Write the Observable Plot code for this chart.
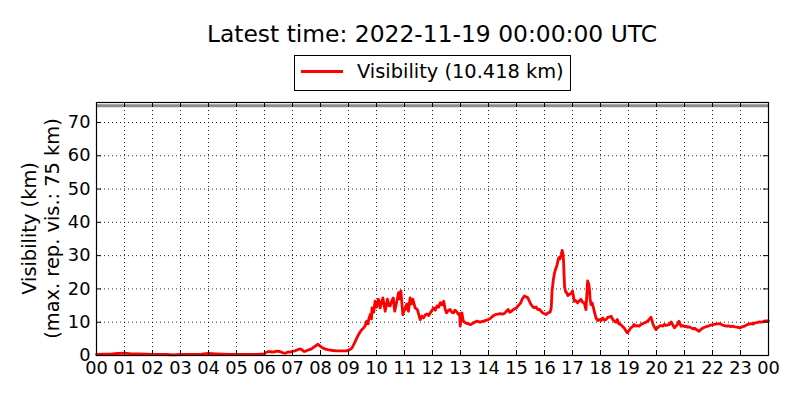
<!DOCTYPE html>
<html>
<head>
<meta charset="utf-8">
<script src="https://cdn.jsdelivr.net/npm/d3@7"></script>
<script src="https://cdn.jsdelivr.net/npm/@observablehq/plot@0.6"></script>
<style>
  html, body { margin: 0; padding: 0; background: white; }
  #chart { width: 800px; height: 400px; }
</style>
</head>
<body>
<div id="chart"></div>
<script>
// ---- data (hours since 00 UTC, visibility in km) ----
const hours = [
  0, 0.25, 0.5, 0.75, 1.0, 1.25, 1.5, 1.75, 2.0, 2.25, 2.5, 2.75, 3.0, 3.25, 3.5, 3.75, 4.0, 4.25, 4.5, 4.75, 5.0, 5.25, 5.5, 5.75, 6.0,
  6.05, 6.15, 6.3, 6.45, 6.55, 6.65, 6.75, 6.85, 6.92, 7.0, 7.1, 7.2, 7.28, 7.35, 7.42, 7.5, 7.58, 7.68, 7.76, 7.85, 7.9, 7.98, 8.05, 8.15, 8.29, 8.45, 8.58, 8.75, 8.94,
  9.05, 9.12, 9.2, 9.3, 9.36, 9.45, 9.54, 9.6, 9.65, 9.7, 9.72, 9.78, 9.82, 9.84, 9.9, 9.95, 10.0, 10.07, 10.13, 10.18, 10.23, 10.31, 10.36, 10.39, 10.45, 10.49, 10.55, 10.6, 10.65, 10.72, 10.79, 10.83, 10.87, 10.94,
  11.0, 11.02, 11.08, 11.14, 11.2, 11.25, 11.3, 11.38, 11.46, 11.56, 11.62, 11.68, 11.74, 11.8, 11.86, 11.92, 11.98,
  12.04, 12.1, 12.16, 12.22, 12.28, 12.34, 12.4, 12.45, 12.5, 12.56, 12.63, 12.69, 12.75, 12.8, 12.85, 12.93, 12.97, 12.99,
  13.02, 13.05, 13.1, 13.18, 13.28, 13.37, 13.46, 13.58, 13.7, 13.82, 13.94,
  14.06, 14.15, 14.24, 14.33, 14.41, 14.5, 14.59, 14.65, 14.7, 14.76, 14.82, 14.9,
  15.0, 15.05, 15.1, 15.15, 15.2, 15.28, 15.34, 15.4, 15.46, 15.52, 15.58, 15.64, 15.7, 15.76, 15.82, 15.88, 15.94,
  16.0, 16.06, 16.12, 16.2, 16.24, 16.27, 16.32, 16.36, 16.4, 16.44, 16.48, 16.51, 16.55, 16.6, 16.63, 16.66, 16.68, 16.7, 16.72, 16.76, 16.79, 16.84, 16.89, 16.95,
  17.0, 17.03, 17.06, 17.12, 17.18, 17.24, 17.3, 17.36, 17.42, 17.48, 17.51, 17.54, 17.58, 17.6, 17.63, 17.66, 17.7, 17.75, 17.8, 17.84, 17.9, 17.96,
  18.02, 18.08, 18.14, 18.2, 18.26, 18.32, 18.38, 18.44, 18.5, 18.56, 18.6, 18.66, 18.72, 18.78, 18.84, 18.9, 18.96,
  19.02, 19.08, 19.14, 19.2, 19.26, 19.32, 19.38, 19.44, 19.5, 19.56, 19.62, 19.68, 19.74, 19.8, 19.84, 19.88, 19.93, 19.98,
  20.04, 20.1, 20.16, 20.22, 20.28, 20.34, 20.4, 20.46, 20.52, 20.58, 20.64, 20.7, 20.76, 20.8, 20.84, 20.88, 20.94,
  21.0, 21.06, 21.12, 21.18, 21.24, 21.3, 21.36, 21.42, 21.48, 21.52, 21.58, 21.66, 21.72, 21.78, 21.84, 21.9, 21.96,
  22.02, 22.1, 22.18, 22.26, 22.34, 22.42, 22.5, 22.58, 22.66, 22.73, 22.8, 22.88, 22.97,
  23.05, 23.15, 23.22, 23.3, 23.38, 23.45, 23.5, 23.58, 23.68, 23.76, 23.84, 23.92, 24.0
];
const visibility = [
  0.3, 0.4, 0.4, 0.6, 0.7, 0.5, 0.5, 0.4, 0.3, 0.3, 0.3, 0.2, 0.3, 0.3, 0.3, 0.4, 0.6, 0.5, 0.4, 0.3, 0.3, 0.3, 0.3, 0.3, 0.5,
  0.9, 1.2, 1.0, 1.3, 1.2, 0.8, 0.7, 1.1, 1.0, 1.3, 1.4, 1.8, 2.0, 1.6, 1.2, 1.4, 1.7, 2.0, 2.5, 3.0, 3.4, 2.9, 2.4, 2.0, 1.7, 1.5, 1.4, 1.4, 1.4,
  1.8, 2.2, 3.5, 5.3, 6.3, 7.5, 8.3, 9.0, 10.3, 9.5, 10.8, 12.3, 11.0, 14.3, 13.0, 16.3, 14.5, 16.9, 14.3, 16.0, 17.3, 13.3, 15.5, 16.9, 15.0, 14.9, 16.5, 17.3, 13.3, 16.0, 18.9, 17.0, 19.4, 12.3,
  14.0, 13.8, 15.5, 13.3, 17.3, 15.5, 16.9, 14.3, 13.8, 10.8, 11.8, 11.3, 12.2, 12.5, 12.0, 12.8, 13.5,
  14.3, 13.6, 14.9, 14.5, 15.9, 15.2, 16.3, 14.0, 12.8, 13.5, 13.8, 13.0, 12.8, 13.6, 13.3, 12.3, 12.6, 8.8,
  11.5, 12.8, 10.3, 9.8, 9.5, 9.3, 9.8, 10.3, 10.0, 10.3, 10.6,
  11.1, 11.8, 12.3, 12.4, 12.6, 12.4, 12.8, 13.4, 13.8, 13.0, 13.3, 13.9,
  14.3, 14.9, 15.3, 15.8, 16.9, 17.9, 17.6, 17.4, 16.3, 15.3, 14.7, 14.3, 14.6, 13.8, 13.9, 13.3, 12.8,
  12.5, 12.3, 12.8, 13.0, 14.3, 19.4, 23.0, 24.9, 26.0, 26.9, 28.5, 29.4, 29.0, 30.4, 31.6, 30.5, 28.4, 24.0, 20.4, 19.0, 18.9, 18.0, 18.4, 18.6,
  19.4, 18.0, 16.3, 16.5, 15.8, 16.4, 16.9, 16.0, 15.8, 13.8, 18.0, 22.4, 21.5, 20.4, 17.0, 15.3, 15.8, 14.3, 12.5, 11.3, 10.5, 10.8,
  10.5, 11.3, 10.6, 10.8, 11.5, 11.5, 11.8, 10.8, 10.3, 10.0, 10.8, 9.5, 9.3, 8.8, 8.3, 7.5, 6.8,
  7.5, 8.3, 8.6, 9.3, 8.8, 9.0, 8.8, 9.3, 9.5, 9.8, 10.0, 10.3, 10.8, 11.5, 10.5, 9.3, 8.5, 7.8,
  8.3, 8.8, 9.0, 8.8, 9.3, 9.0, 9.2, 9.3, 10.1, 9.2, 8.3, 8.9, 9.4, 10.3, 9.5, 8.8, 9.0,
  8.7, 8.8, 8.5, 8.6, 8.3, 8.0, 8.2, 7.8, 7.5, 7.3, 7.8, 8.3, 8.5, 8.7, 8.8, 9.0, 9.2,
  9.3, 9.4, 9.5, 9.6, 9.2, 9.0, 8.8, 8.9, 8.7, 8.8, 8.6, 8.5, 8.3,
  8.6, 8.8, 9.2, 9.4, 9.6, 9.4, 9.8, 9.9, 10.1, 10.0, 10.3, 10.4, 10.418
];
const xTicks = d3.range(0, 25);
const yTicks = d3.range(0, 71, 10);
const maxReported = 75;
const yMax = 76;
const titleText = "Latest time: 2022-11-19 00:00:00 UTC";
const legendText = "Visibility (10.418 km)";
const yLabelLines = ["Visibility (km)", "(max. rep. vis.: 75 km)"];

const data = hours.map((h, i) => ({h, v: visibility[i]}));

// ---- layout ----
const W = 800, H = 400;
const mL = 96, mR = 32, mT = 102, mB = 45;
const plotW = W - mL - mR, plotH = H - mT - mB;
const tickLen = 5;
const gridStyle = {stroke: "black", strokeOpacity: 0.85, strokeWidth: 1, strokeDasharray: "1,3"};

const chart = Plot.plot({
  width: W, height: H,
  marginLeft: mL, marginRight: mR, marginTop: mT, marginBottom: mB,
  style: {fontFamily: "DejaVu Sans", fontSize: "17.8px", color: "black", background: "white"},
  x: {domain: [0, 24]},
  y: {domain: [0, yMax]},
  marks: [
    Plot.gridX(xTicks, gridStyle),
    Plot.gridY(yTicks, gridStyle),
    Plot.ruleY([maxReported], {stroke: "#8c8c8c", strokeWidth: 3}),
    Plot.line(data, {x: "h", y: "v", stroke: "#ff0000", strokeWidth: 2.8}),
    Plot.frame({stroke: "black", strokeWidth: 1.2}),
    Plot.tickX(xTicks, {x: d => d, stroke: "black", insetTop: plotH - tickLen}),
    Plot.tickX(xTicks, {x: d => d, stroke: "black", insetBottom: plotH - tickLen}),
    Plot.tickY(yTicks, {y: d => d, stroke: "black", insetRight: plotW - tickLen}),
    Plot.tickY(yTicks, {y: d => d, stroke: "black", insetLeft: plotW - tickLen}),
    Plot.axisX(xTicks, {anchor: "bottom", tickSize: 0, tickPadding: 6, label: null,
      tickFormat: d => String(d % 24).padStart(2, "0")}),
    Plot.axisY(yTicks, {anchor: "left", tickSize: 0, tickPadding: 6, label: null})
  ]
});

const svg = d3.select(chart);
// title
svg.append("text")
  .attr("x", mL + plotW / 2).attr("y", 42)
  .attr("text-anchor", "middle")
  .attr("font-size", "23.4px").attr("fill", "black")
  .text(titleText);
// legend
const lg = svg.append("g");
lg.append("rect").attr("x", 294.5).attr("y", 55.5).attr("width", 276).attr("height", 35)
  .attr("fill", "white").attr("stroke", "black").attr("stroke-width", 1);
lg.append("line").attr("x1", 301).attr("x2", 343).attr("y1", 71.5).attr("y2", 71.5)
  .attr("stroke", "#ff0000").attr("stroke-width", 2.8);
lg.append("text").attr("x", 357).attr("y", 78)
  .attr("text-anchor", "start")
  .attr("font-size", "19.4px").attr("fill", "black").text(legendText);
// y label (two lines, rotated)
const yl = svg.append("g").attr("transform", `translate(0,${mT + plotH / 2}) rotate(-90)`);
yl.append("text").attr("x", 0).attr("y", 35.5).attr("text-anchor", "middle")
  .attr("font-size", "19.4px").attr("fill", "black").text(yLabelLines[0]);
yl.append("text").attr("x", 0).attr("y", 58.5).attr("text-anchor", "middle")
  .attr("font-size", "19.4px").attr("fill", "black").text(yLabelLines[1]);

document.getElementById("chart").appendChild(chart);
</script>
</body>
</html>
